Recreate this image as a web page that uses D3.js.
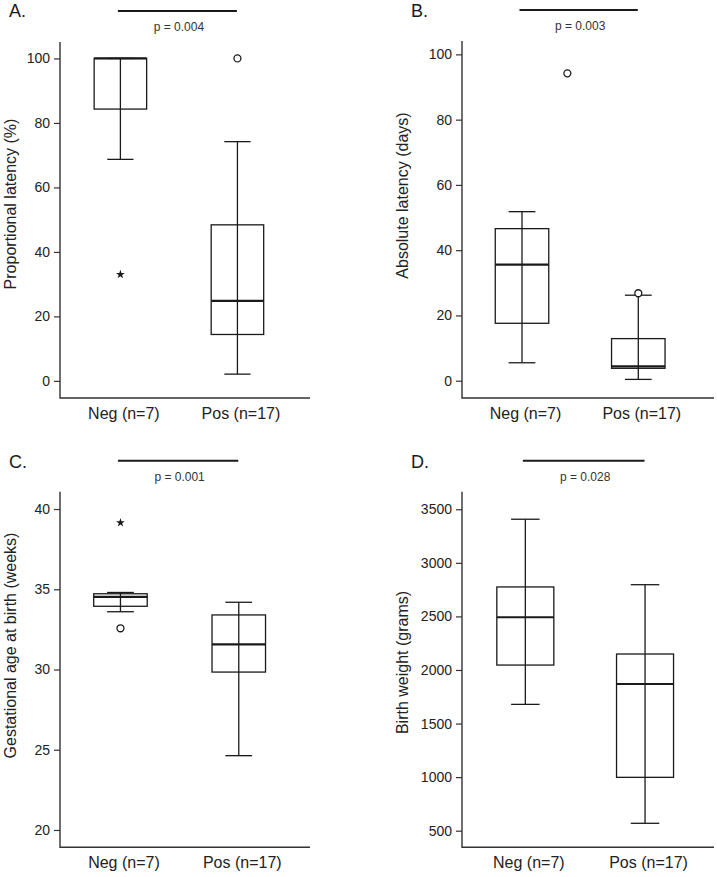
<!DOCTYPE html>
<html>
<head>
<meta charset="utf-8">
<script src="https://cdn.jsdelivr.net/npm/d3@7"></script>
<style>
  body { margin: 0; background: #fff; }
  svg { display: block; font-family: "Liberation Sans", Arial, sans-serif; }
</style>
</head>
<body>
<svg id="chart" width="717" height="877"></svg>
<script>
// Groups shared by all four panels
const groups = ["Neg (n=7)", "Pos (n=17)"];

// Box statistics per panel (whisker low, Q1, median, Q3, whisker high)
const propLatency = [
  { low: 68.7, q1: 84.3, median: 100, q3: 100, high: 100 },
  { low: 2.1, q1: 14.4, median: 24.8, q3: 48.4, high: 74.2 }
];
const absLatency = [
  { low: 5.5, q1: 17.6, median: 35.6, q3: 46.6, high: 51.8 },
  { low: 0.4, q1: 3.8, median: 4.4, q3: 12.9, high: 26.2 }
];
const gestAge = [
  { low: 33.6, q1: 33.94, median: 34.52, q3: 34.72, high: 34.8 },
  { low: 24.63, q1: 29.84, median: 31.57, q3: 33.4, high: 34.19 }
];
const birthWeight = [
  { low: 1679, q1: 2046, median: 2492, q3: 2775, high: 3407 },
  { low: 569, q1: 998, median: 1869, q3: 2149, high: 2796 }
];

// Outliers: group position on the x scale, value, marker
const propOutliers = [
  { g: 0, v: 33, mark: "star" },
  { g: 1, v: 100, mark: "circle" }
];
const absOutliers = [
  { g: 0.39, v: 94.2, mark: "circle" },
  { g: 1, v: 26.8, mark: "circle" }
];
const gestOutliers = [
  { g: 0, v: 39.15, mark: "star" },
  { g: 0, v: 32.57, mark: "circle" }
];
const weightOutliers = [];

// Tick values
const propTicks = [0, 20, 40, 60, 80, 100];
const absTicks = [0, 20, 40, 60, 80, 100];
const gestTicks = [20, 25, 30, 35, 40];
const weightTicks = [500, 1000, 1500, 2000, 2500, 3000, 3500];

const panelLetters = ["A.", "B.", "C.", "D."];
const pTexts = ["p = 0.004", "p = 0.003", "p = 0.001", "p = 0.028"];
const yTitles = [
  "Proportional latency (%)",
  "Absolute latency (days)",
  "Gestational age at birth (weeks)",
  "Birth weight (grams)"
];

// Layout of each panel
const panels = [
  { stats: propLatency, outliers: propOutliers, ticks: propTicks,
    x0: 60, x1: 310, y0: 42, y1: 398, yDomain: [-5.3, 105.1], xDomain: [-0.516, 1.62],
    boxW: 52.5, titleX: 10, titleDy: -16, letterX: 9, letterY: 17 },
  { stats: absLatency, outliers: absOutliers, ticks: absTicks,
    x0: 462, x1: 714, y0: 41, y1: 398, yDomain: [-5.3, 104.1], xDomain: [-0.516, 1.651],
    boxW: 53.5, titleX: 402, titleDy: -24, letterX: 411, letterY: 17 },
  { stats: gestAge, outliers: gestOutliers, ticks: gestTicks,
    x0: 60, x1: 310, y0: 491.7, y1: 847.3, yDomain: [18.92, 41.08], xDomain: [-0.511, 1.602],
    boxW: 53.5, titleX: 10, titleDy: -24, letterX: 9, letterY: 468 },
  { stats: birthWeight, outliers: weightOutliers, ticks: weightTicks,
    x0: 462, x1: 714, y0: 491.7, y1: 847.3, yDomain: [345, 3664], xDomain: [-0.529, 1.576],
    boxW: 57, titleX: 402, titleDy: -7, letterX: 411, letterY: 468 }
];

const ink = "#1a1a1a";
const svg = d3.select("#chart");

panels.forEach((p, i) => {
  const x = d3.scaleLinear().domain(p.xDomain).range([p.x0, p.x1]);
  const y = d3.scaleLinear().domain(p.yDomain).range([p.y1, p.y0]);
  const g = svg.append("g");

  // Panel letter
  g.append("text")
    .attr("x", p.letterX)
    .attr("y", p.letterY)
    .attr("font-size", "18px")
    .attr("fill", ink)
    .text(panelLetters[i]);

  // Significance bar and p value
  const barY = p.y0 - 31;
  g.append("line")
    .attr("x1", x(0) - 2.5)
    .attr("x2", x(1) - 0.5)
    .attr("y1", barY)
    .attr("y2", barY)
    .attr("stroke", ink)
    .attr("stroke-width", 2);
  g.append("text")
    .attr("x", (x(0) + x(1)) / 2)
    .attr("y", barY + 20)
    .attr("text-anchor", "middle")
    .attr("font-size", "12px")
    .attr("fill", "#333")
    .text(pTexts[i]);

  // Y axis
  const yAxis = g.append("g")
    .attr("transform", `translate(${p.x0},0)`)
    .call(d3.axisLeft(y).tickValues(p.ticks).tickFormat(d3.format("d"))
      .tickSize(6).tickPadding(4).tickSizeOuter(0));
  yAxis.select(".domain").remove();
  yAxis.selectAll(".tick line").attr("stroke", "#333").attr("stroke-width", 1.2);
  yAxis.selectAll(".tick text")
    .attr("font-size", "14px")
    .attr("fill", "#222")
    .attr("font-family", "Liberation Sans, Arial, sans-serif");

  // Axis frame lines
  g.append("path")
    .attr("d", `M${p.x0},${p.y0}V${p.y1}H${p.x1}`)
    .attr("fill", "none")
    .attr("stroke", "#333")
    .attr("stroke-width", 1.4);

  // Y axis title
  const ty = (p.y0 + p.y1) / 2 + p.titleDy;
  g.append("text")
    .attr("transform", `translate(${p.titleX},${ty}) rotate(-90)`)
    .attr("text-anchor", "middle")
    .attr("dominant-baseline", "central")
    .attr("font-size", "16px")
    .attr("fill", "#222")
    .text(yTitles[i]);

  // Group labels
  g.selectAll(".glabel")
    .data(groups)
    .enter()
    .append("text")
    .attr("class", "glabel")
    .attr("x", (d, j) => x(j) + 3.5)
    .attr("y", p.y1 + 21)
    .attr("text-anchor", "middle")
    .attr("font-size", "16px")
    .attr("fill", "#222")
    .text((d) => d);

  // Boxes
  const box = g.selectAll(".box")
    .data(p.stats)
    .enter()
    .append("g")
    .attr("class", "box");

  // Whisker stem
  box.append("line")
    .attr("x1", (d, j) => x(j))
    .attr("x2", (d, j) => x(j))
    .attr("y1", (d) => y(d.high))
    .attr("y2", (d) => y(d.low))
    .attr("stroke", ink)
    .attr("stroke-width", 1.3);

  // Whisker caps
  ["low", "high"].forEach((k) => {
    box.append("line")
      .attr("x1", (d, j) => x(j) - p.boxW / 4)
      .attr("x2", (d, j) => x(j) + p.boxW / 4)
      .attr("y1", (d) => y(d[k]))
      .attr("y2", (d) => y(d[k]))
      .attr("stroke", ink)
      .attr("stroke-width", 1.3);
  });

  // Box body
  box.append("rect")
    .attr("x", (d, j) => x(j) - p.boxW / 2)
    .attr("y", (d) => y(d.q3))
    .attr("width", p.boxW)
    .attr("height", (d) => y(d.q1) - y(d.q3))
    .attr("fill", "none")
    .attr("stroke", ink)
    .attr("stroke-width", 1.3);

  // Median
  box.append("line")
    .attr("x1", (d, j) => x(j) - p.boxW / 2)
    .attr("x2", (d, j) => x(j) + p.boxW / 2)
    .attr("y1", (d) => y(d.median))
    .attr("y2", (d) => y(d.median))
    .attr("stroke", ink)
    .attr("stroke-width", 2.2);

  // Outliers
  g.selectAll(".out")
    .data(p.outliers)
    .enter()
    .append("path")
    .attr("class", "out")
    .attr("transform", (d) => `translate(${x(d.g)},${y(d.v)})`)
    .attr("d", (d) => d.mark === "star"
      ? d3.symbol(d3.symbolStar, 24)()
      : d3.symbol(d3.symbolCircle, 38)())
    .attr("fill", (d) => d.mark === "star" ? ink : "#fff")
    .attr("stroke", ink)
    .attr("stroke-width", (d) => d.mark === "star" ? 0 : 1.3);
});
</script>
</body>
</html>
